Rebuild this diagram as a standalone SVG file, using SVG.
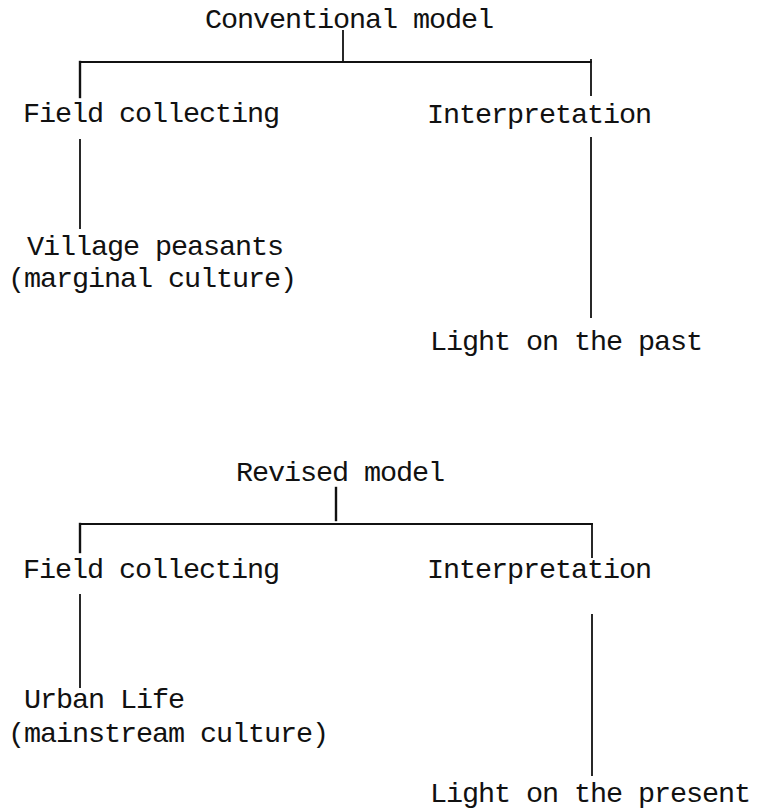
<svg xmlns="http://www.w3.org/2000/svg" width="758" height="812" viewBox="0 0 758 812">
<style>
text{font-family:"Liberation Mono","Courier New",monospace;font-size:28.5px;letter-spacing:-1.1px;fill:#111;}
.ln{stroke:#111;stroke-width:1.8;fill:none;stroke-linecap:square;}
.thick{stroke-width:2.4;}
</style>
<rect width="758" height="812" fill="#fff"/>
<g id="connectors">
<path class="ln" d="M343 31 V62"/>
<path class="ln" d="M80 62 H591"/>
<path class="ln thick" d="M80 62 V97"/>
<path class="ln" d="M591 60 V95"/>
<path class="ln" d="M80 140 V228"/>
<path class="ln" d="M591 138 V317"/>
<path class="ln thick" d="M336 488 V520"/>
<path class="ln" d="M80 524 H592"/>
<path class="ln thick" d="M80 524 V552"/>
<path class="ln" d="M592 524 V557"/>
<path class="ln" d="M80 595 V687"/>
<path class="ln" d="M592 615 V775"/>
</g>
<g id="conventional-model"><text x="205" y="28">Conventional model</text></g>
<g id="field-collecting-1"><text x="23" y="122">Field collecting</text></g>
<g id="interpretation-1"><text x="427" y="123">Interpretation</text></g>
<g id="village-peasants"><text x="27" y="255">Village peasants</text><text x="8" y="287">(marginal culture)</text></g>
<g id="light-past"><text x="430" y="350">Light on the past</text></g>
<g id="revised-model"><text x="236" y="481">Revised model</text></g>
<g id="field-collecting-2"><text x="23" y="578">Field collecting</text></g>
<g id="interpretation-2"><text x="427" y="578">Interpretation</text></g>
<g id="urban-life"><text x="24" y="708">Urban Life</text><text x="8" y="742">(mainstream culture)</text></g>
<g id="light-present"><text x="430" y="802">Light on the present</text></g>
</svg>
